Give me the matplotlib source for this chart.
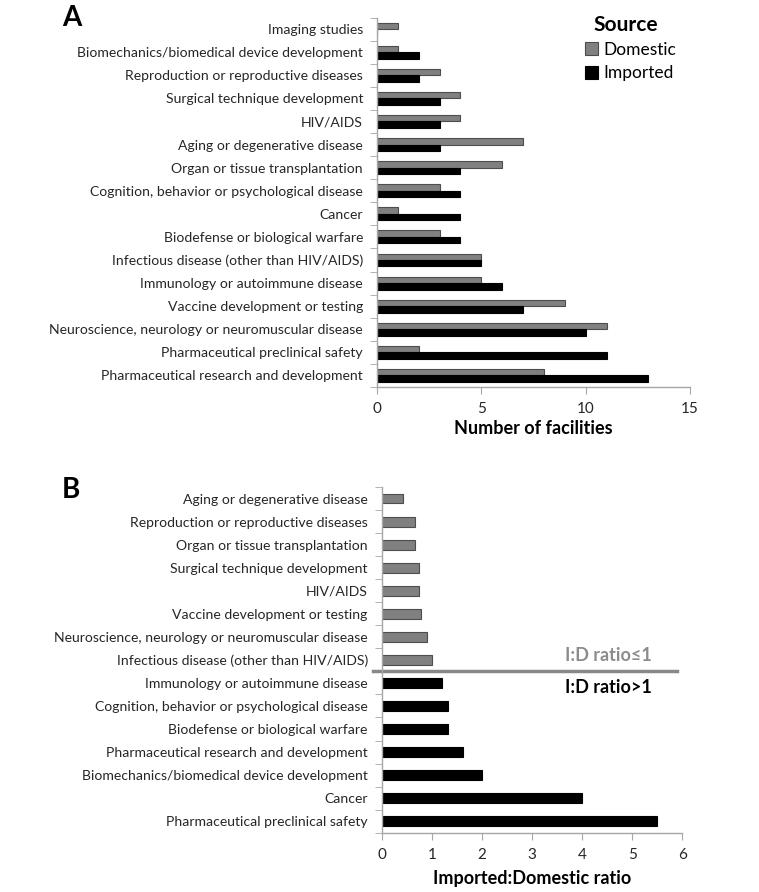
import matplotlib
matplotlib.use("Agg")
import matplotlib.pyplot as plt
import numpy as np

plt.rcParams['font.family'] = ['Lato', 'DejaVu Sans']

# Panel A data (top to bottom)
cats_a = [
    "Imaging studies",
    "Biomechanics/biomedical device development",
    "Reproduction or reproductive diseases",
    "Surgical technique development",
    "HIV/AIDS",
    "Aging or degenerative disease",
    "Organ or tissue transplantation",
    "Cognition, behavior or psychological disease",
    "Cancer",
    "Biodefense or biological warfare",
    "Infectious disease (other than HIV/AIDS)",
    "Immunology or autoimmune disease",
    "Vaccine development or testing",
    "Neuroscience, neurology or neuromuscular disease",
    "Pharmaceutical preclinical safety",
    "Pharmaceutical research and development",
]
domestic = [1, 1, 3, 4, 4, 7, 6, 3, 1, 3, 5, 5, 9, 11, 2, 8]
imported = [0, 2, 2, 3, 3, 3, 4, 4, 4, 4, 5, 6, 7, 10, 11, 13]

# Panel B data (top to bottom)
cats_b = [
    "Aging or degenerative disease",
    "Reproduction or reproductive diseases",
    "Organ or tissue transplantation",
    "Surgical technique development",
    "HIV/AIDS",
    "Vaccine development or testing",
    "Neuroscience, neurology or neuromuscular disease",
    "Infectious disease (other than HIV/AIDS)",
    "Immunology or autoimmune disease",
    "Cognition, behavior or psychological disease",
    "Biodefense or biological warfare",
    "Pharmaceutical research and development",
    "Biomechanics/biomedical device development",
    "Cancer",
    "Pharmaceutical preclinical safety",
]
ratio = [0.43, 0.67, 0.67, 0.75, 0.75, 0.78, 0.91, 1.0,
         1.2, 1.33, 1.33, 1.63, 2.0, 4.0, 5.5]

GRAY = "#808080"
GRAY_EDGE = "#4d4d4d"
SPINE = "#a6a6a6"
W, H = 759, 892

fig = plt.figure(figsize=(W / 100, H / 100), dpi=100)

def fax(l, t, r, b):
    return fig.add_axes([l / W, 1 - b / H, (r - l) / W, (b - t) / H])

def style(ax, n):
    for s in ["top", "right"]:
        ax.spines[s].set_visible(False)
    for s in ["left", "bottom"]:
        ax.spines[s].set_color(SPINE)
        ax.spines[s].set_linewidth(1.0)
    ax.set_ylim(n - 0.5, -0.5)
    ax.set_yticks(np.arange(n))
    ax.set_yticks(np.arange(n + 1) - 0.5, minor=True)
    ax.tick_params(axis='y', which='major', length=0, pad=10, labelsize=10.1, colors='#262626')
    ax.tick_params(axis='y', which='minor', length=5, color=SPINE)
    ax.tick_params(axis='x', which='major', length=5, color=SPINE, labelsize=11, pad=6, labelcolor='#262626')

# ---- Panel A ----
axA = fax(377, 17.5, 690, 387)
y = np.arange(len(cats_a))
bh = 0.28
axA.barh(y - bh / 2, domestic, height=bh, color=GRAY, edgecolor=GRAY_EDGE, linewidth=0.8, label="Domestic")
axA.barh(y + bh / 2, imported, height=bh, color="black", edgecolor="black", linewidth=0.8, label="Imported")
axA.set_xlim(0, 15)
axA.set_xticks([0, 5, 10, 15])
axA.set_yticklabels(cats_a)
style(axA, len(cats_a))
axA.set_xlabel("Number of facilities", fontsize=13, fontweight='bold', labelpad=3)
leg = axA.legend(loc='upper left', bbox_to_anchor=(576 / W, 1 - 33 / H), bbox_transform=fig.transFigure,
                 frameon=False, fontsize=12.5, handlelength=0.75, handleheight=0.75,
                 handletextpad=0.35, labelspacing=0.45, borderpad=0)
fig.text(626 / W, 1 - 25 / H, "Source", fontsize=15, fontweight='bold', ha='center', va='center')
fig.text(62 / W, 1 - 18 / H, "A", fontsize=20, fontweight='bold', va='center', ha='left')

# ---- Panel B ----
axB = fax(381.7, 487, 682.3, 832.7)
yb = np.arange(len(cats_b))
colors_b = [GRAY if r <= 1 else "black" for r in ratio]
edges_b = [GRAY_EDGE if r <= 1 else "black" for r in ratio]
axB.barh(yb, ratio, height=0.43, color=colors_b, edgecolor=edges_b, linewidth=0.8)
axB.set_xlim(0, 6)
axB.set_xticks(range(7))
axB.set_yticklabels(cats_b)
style(axB, len(cats_b))
axB.set_xlabel("Imported:Domestic ratio", fontsize=13, fontweight='bold', labelpad=6)
nle = sum(1 for r in ratio if r <= 1)
axB.plot([-0.029, 0.982], [nle - 0.5, nle - 0.5], color="#888888", lw=2.5,
         transform=axB.get_yaxis_transform(), clip_on=False)
axB.text(5.39, nle - 1.2, "I:D ratio\u22641", color="#8c8c8c", fontsize=13, fontweight='bold',
         ha='right', va='center')
axB.text(5.39, nle + 0.18, "I:D ratio>1", color="black", fontsize=13, fontweight='bold',
         ha='right', va='center')
fig.text(62 / W, 1 - 490 / H, "B", fontsize=20, fontweight='bold', va='center', ha='left')

fig.savefig("out.png", dpi=100, facecolor='white')
